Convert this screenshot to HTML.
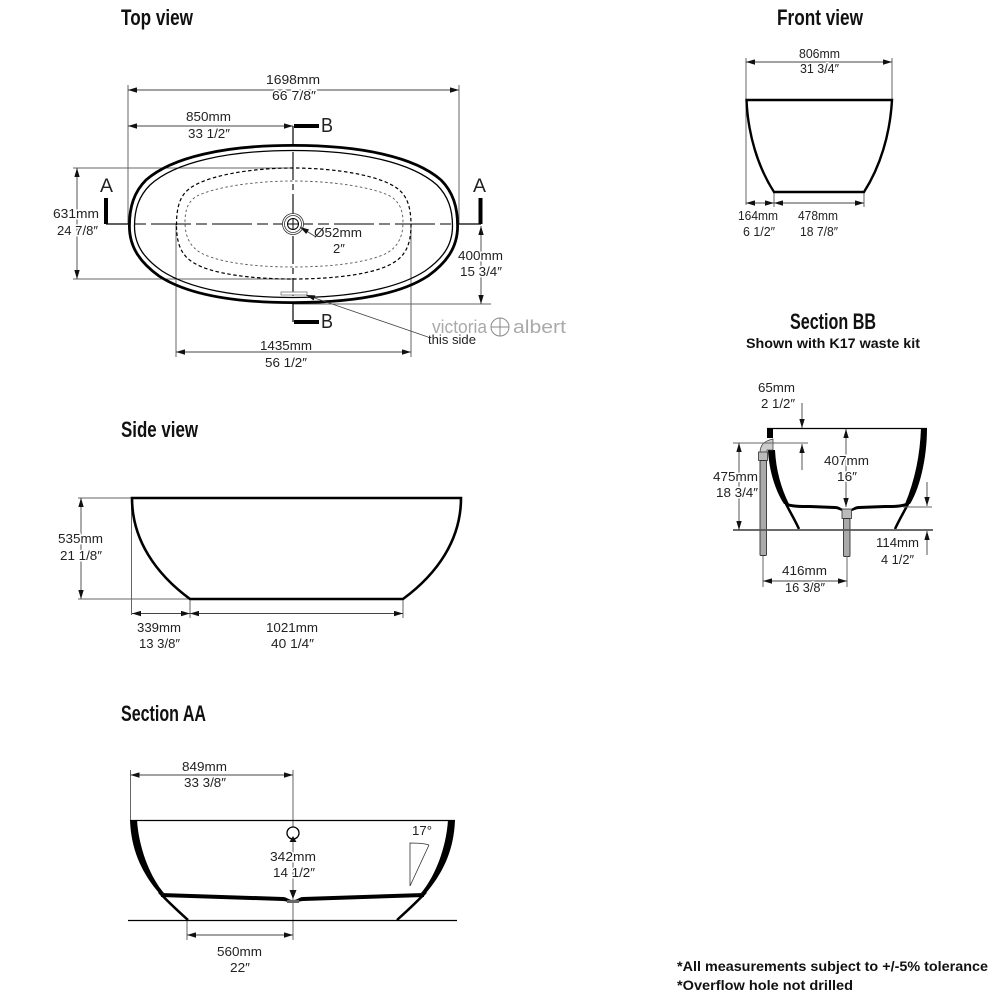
<!DOCTYPE html>
<html><head><meta charset="utf-8"><style>
html,body{margin:0;padding:0;background:#fff}
svg{display:block}
text{font-family:"Liberation Sans",sans-serif;font-size:13px;fill:#222}
.h{font-weight:bold;font-size:22px;fill:#111}
.b{font-weight:bold;font-size:14px;fill:#111}
.w{paint-order:stroke;stroke:#fff;stroke-width:3px;stroke-linejoin:round}
.d{stroke:#666;stroke-width:1;fill:none}
.a{stroke:#444;stroke-width:.9;fill:none;marker-start:url(#m);marker-end:url(#m)}
.e{stroke:#444;stroke-width:.9;fill:none;marker-end:url(#m)}
.k{stroke:#000;fill:none}
</style></head><body>
<svg width="1000" height="1000" viewBox="0 0 1000 1000" xmlns="http://www.w3.org/2000/svg">
<defs><marker id="m" viewBox="0 0 10 6" refX="10" refY="3" markerWidth="9" markerHeight="5.500" markerUnits="userSpaceOnUse" orient="auto-start-reverse"><path d="M0 0L10 3L0 6Z" fill="#111"/></marker></defs>

<!-- titles -->
<text class="h" x="121" y="25" textLength="72" lengthAdjust="spacingAndGlyphs">Top view</text>
<text class="h" x="777" y="25" textLength="86" lengthAdjust="spacingAndGlyphs">Front view</text>
<text class="h" x="121" y="437" textLength="77" lengthAdjust="spacingAndGlyphs">Side view</text>
<text class="h" x="121" y="721" textLength="85" lengthAdjust="spacingAndGlyphs">Section AA</text>
<text class="h" x="790" y="329" textLength="86" lengthAdjust="spacingAndGlyphs">Section BB</text>
<text class="b" x="746" y="348" textLength="174" lengthAdjust="spacingAndGlyphs">Shown with K17 waste kit</text>
<text class="b" x="677" y="971" textLength="311" lengthAdjust="spacingAndGlyphs">*All measurements subject to +/-5% tolerance</text>
<text class="b" x="677" y="990" textLength="176" lengthAdjust="spacingAndGlyphs">*Overflow hole not drilled</text>

<!-- TOP VIEW -->
<path class="d" d="M128 85V224M459 85V224M73 168H293M73 279H293M176 224V357M411 224V357M293 304H491"/>
<path class="k" stroke-width="2.800" d="M129.400 226C129.400 207 134 192 146 180C172 157 225 145.400 293 145.400C361 145.400 415 157 441 180C453 192 457.600 207 457.600 226C457.600 248 446 263 428 276C399 295 350 302.600 293 302.600C236 302.600 188 295 159 276C141 263 129.400 248 129.400 226Z"/>
<path class="k" stroke-width="1.300" d="M134.500 226C134.500 209 139 196 150 185C175 162 228 150.500 293 150.500C358 150.500 411 162 437 185C448 196 452.500 209 452.500 226C452.500 246 442 259 425 271C397 289 350 297.500 293 297.500C236 297.500 190 289 162 271C145 259 134.500 246 134.500 226Z"/>
<path class="k" stroke-width="1.200" stroke-dasharray="3.500 2.500" d="M176.500 225C176.500 207 180 196 189 189C205 176 250 168 293 168C337 168 382 176 398 189C407 196 411 207 411 225C411 245 405 256 393 263C375 274 335 279 293 279C252 279 212 274 194 263C182 256 176.500 245 176.500 225Z"/>
<path stroke="#555" fill="none" stroke-width=".9" stroke-dasharray="2.500 2.500" d="M185 222C185 208 189 201 197 196C215 187 255 181 293 181C332 181 372 187 390 196C398 201 403 208 403 222C403 238 397 248 385 254C365 263 330 267 293 267C257 267 222 263 203 254C191 248 185 238 185 222Z"/>
<path class="k" stroke-width="1.100" stroke-dasharray="40 5 11 5" stroke-dashoffset="45" d="M135 224H452"/>
<path class="k" stroke-width="1.200" d="M106 224H128M459 224H481"/>
<path class="k" stroke-width="1.200" d="M293 126V146M293 302V322"/>
<path class="k" stroke-width="1.100" stroke-dasharray="28 4 6 4" d="M293 152V296"/>
<path class="k" stroke-width="4" d="M106 198V224M480.500 198V224M294 126H319M294 322H319"/>
<g fill="#fff" stroke="#333" stroke-width=".8"><circle cx="293" cy="224" r="10.500"/><circle cx="293" cy="224" r="8.500"/><circle cx="293" cy="224" r="5.500" stroke="#000" stroke-width="1"/></g>
<path class="k" stroke-width="1" d="M287.500 224H298.500M293 218.500V229.500"/>
<rect x="281" y="292" width="26" height="3" fill="#fff" stroke="#777" stroke-width=".8"/>
<path class="a" d="M128 90H459"/>
<path class="a" d="M128 126H293"/>
<path class="a" d="M77 168V279"/>
<path class="a" d="M481 226V304"/>
<path class="a" d="M176 352H411"/>
<path class="e" d="M428 337L306 295"/>
<path class="e" d="M316 237L300 227"/>
<text class="w" x="266" y="84" textLength="54" lengthAdjust="spacingAndGlyphs">1698mm</text>
<text class="w" x="272" y="100" textLength="44" lengthAdjust="spacingAndGlyphs">66 7/8″</text>
<text class="w" x="186" y="121" textLength="45" lengthAdjust="spacingAndGlyphs">850mm</text>
<text class="w" x="188" y="138" textLength="42" lengthAdjust="spacingAndGlyphs">33 1/2″</text>
<text class="w" x="53" y="218" textLength="46" lengthAdjust="spacingAndGlyphs">631mm</text>
<text class="w" x="57" y="235" textLength="41" lengthAdjust="spacingAndGlyphs">24 7/8″</text>
<text class="w" x="458" y="260" textLength="45" lengthAdjust="spacingAndGlyphs">400mm</text>
<text class="w" x="460" y="276" textLength="42" lengthAdjust="spacingAndGlyphs">15 3/4″</text>
<text x="314" y="237" textLength="48" lengthAdjust="spacingAndGlyphs">Ø52mm</text>
<text x="333" y="253">2″</text>
<text class="w" x="260" y="350" textLength="52" lengthAdjust="spacingAndGlyphs">1435mm</text>
<text class="w" x="265" y="367" textLength="42" lengthAdjust="spacingAndGlyphs">56 1/2″</text>
<text x="432" y="333" style="font-size:18px;fill:#aaa" textLength="55" lengthAdjust="spacingAndGlyphs">victoria</text>
<text x="513" y="333" style="font-size:18px;fill:#aaa" textLength="53" lengthAdjust="spacingAndGlyphs">albert</text>
<text x="428" y="344" textLength="48" lengthAdjust="spacingAndGlyphs">this side</text>
<circle cx="500" cy="327" r="9" fill="none" stroke="#888" stroke-width="1"/><path d="M491 327H509M500 318V336" stroke="#888" stroke-width="1"/>
<text x="100" y="192" style="font-size:19px" textLength="13" lengthAdjust="spacingAndGlyphs">A</text>
<text x="473" y="192" style="font-size:19px" textLength="13" lengthAdjust="spacingAndGlyphs">A</text>
<text x="321" y="132" style="font-size:20px" textLength="12" lengthAdjust="spacingAndGlyphs">B</text>
<text x="321" y="328" style="font-size:20px" textLength="12" lengthAdjust="spacingAndGlyphs">B</text>

<!-- SIDE VIEW -->
<path class="d" d="M131.500 498V615M78 498H131M78 599H190M190 599V618M403 599V618"/>
<path class="k" stroke-width="2.600" d="M132 498H461C461 540 437 574 403 599H190C156 574 132 540 132 498Z"/>
<path class="a" d="M81 498V599"/>
<path class="a" d="M132 613.500H190"/>
<path class="a" d="M190 613.500H403"/>
<text class="w" x="58" y="543" textLength="45" lengthAdjust="spacingAndGlyphs">535mm</text>
<text class="w" x="60" y="560" textLength="42" lengthAdjust="spacingAndGlyphs">21 1/8″</text>
<text x="137" y="632" textLength="44" lengthAdjust="spacingAndGlyphs">339mm</text>
<text x="139" y="648" textLength="41" lengthAdjust="spacingAndGlyphs">13 3/8″</text>
<text x="266" y="632" textLength="52" lengthAdjust="spacingAndGlyphs">1021mm</text>
<text x="271" y="648" textLength="43" lengthAdjust="spacingAndGlyphs">40 1/4″</text>

<!-- SECTION AA -->
<path class="d" d="M130.500 770V820M293 770V940M187 920V940"/>
<path d="M130 820C131 850 142 873 159 893H164C151 878 139 850 137 820Z" fill="#000"/>
<path d="M455 820C454 850 443 873 426 893H421C434 878 446 850 448 820Z" fill="#000"/>
<path class="k" stroke-width="2.500" d="M159 892C168 902 178 911 188 920M426 892C417 902 407 911 397 920"/>
<path class="k" stroke-width="1.200" d="M130 820.500H455"/>
<path d="M161 893L283 897C287 897 288 900 293 900C298 900 299 897 303 897L424 893V897L303 901C299 901 297 903 293 903C289 903 287 901 283 901L161 897Z" fill="#000"/>
<rect x="287" y="900" width="12" height="3" fill="#666"/>
<path class="k" stroke-width="1.200" d="M128 920.500H457"/>
<circle cx="293" cy="833" r="6" fill="#fff" stroke="#000" stroke-width="1.300"/>
<path class="a" d="M130.500 775H293"/>
<path class="a" d="M187 935H293"/>
<path d="M293 836L296.500 842H289.500Z" fill="#111"/><path d="M293 899L296.500 890H289.500Z" fill="#111"/>
<path d="M429 845C423 843 416 843 410 843V886L429 845" fill="none" stroke="#333" stroke-width=".8"/>
<text class="w" x="182" y="771" textLength="45" lengthAdjust="spacingAndGlyphs">849mm</text>
<text class="w" x="184" y="787" textLength="42" lengthAdjust="spacingAndGlyphs">33 3/8″</text>
<text class="w" x="270" y="861" textLength="46" lengthAdjust="spacingAndGlyphs">342mm</text>
<text class="w" x="273" y="877" textLength="42" lengthAdjust="spacingAndGlyphs">14 1/2″</text>
<text x="412" y="835" textLength="20" lengthAdjust="spacingAndGlyphs">17°</text>
<text x="217" y="956" textLength="45" lengthAdjust="spacingAndGlyphs">560mm</text>
<text x="230" y="972" textLength="20" lengthAdjust="spacingAndGlyphs">22″</text>

<!-- FRONT VIEW -->
<path class="d" d="M746 58V205M892 58V100M774 192V207M864 192V207"/>
<path class="k" stroke-width="2.400" d="M746.500 100H892C890 135 880 167 864 192H774C758 167 748 135 746.500 100Z"/>
<path class="a" d="M746 62H892"/>
<path class="a" d="M746 203H774"/>
<path class="a" d="M774 203H864"/>
<text class="w" x="799" y="58" textLength="41" lengthAdjust="spacingAndGlyphs">806mm</text>
<text class="w" x="800" y="73" textLength="39" lengthAdjust="spacingAndGlyphs">31 3/4″</text>
<text x="738" y="220" textLength="40" lengthAdjust="spacingAndGlyphs">164mm</text>
<text x="743" y="236" textLength="32" lengthAdjust="spacingAndGlyphs">6 1/2″</text>
<text x="798" y="220" textLength="40" lengthAdjust="spacingAndGlyphs">478mm</text>
<text x="800" y="236" textLength="38" lengthAdjust="spacingAndGlyphs">18 7/8″</text>

<!-- SECTION BB -->
<path d="M767 428H773V438H767Z" fill="#000"/>
<path d="M768 450C769 470 775 490 784 504H789C781 488 776 470 775 450Z" fill="#000"/>
<path d="M927 428H921C920 455 915 480 905 504H910C919 490 927 460 927 428Z" fill="#000"/>
<path class="k" stroke-width="2.500" d="M785 502C790 512 795 520 799 529M909 502C904 512 899 520 895 529"/>
<path class="k" stroke-width="1.200" d="M767 428.500H927"/>
<path d="M785 502C790 505 800 505 810 505L835 506C840 506 842 510 847 510C852 510 854 506 859 506L885 505C895 505 905 505 909 501V504C905 508 895 508 885 508L859 509C855 509 852 512 847 512C842 512 839 509 835 509L810 508C800 508 790 508 785 505Z" fill="#000"/>
<path d="M760 453C760 445 764 441 773 439V450H767V453Z" fill="#ccc" stroke="#444" stroke-width=".8"/>
<rect x="758.500" y="452" width="9" height="8.500" fill="#bbb" stroke="#333" stroke-width=".8"/>
<rect x="760" y="460.500" width="6.500" height="95" rx="1" fill="#aaa" stroke="#333" stroke-width=".9"/>
<rect x="842" y="509" width="9.500" height="9.500" fill="#bbb" stroke="#333" stroke-width=".8"/>
<rect x="843.500" y="518.500" width="6.500" height="38" rx="1" fill="#aaa" stroke="#333" stroke-width=".9"/>
<path stroke="#555" stroke-width="1.800" d="M733 530H933"/>
<path class="d" d="M733 443H808M903 507H932M763 556V587M847 556V587"/>
<path class="a" d="M739 443V530"/>
<path class="e" d="M802 403V428"/>
<path class="e" d="M802 470V444"/>
<path class="a" d="M846 429V507"/>
<path class="e" d="M927 482V506"/>
<path class="e" d="M927 555V531"/>
<path class="a" d="M763 581H847"/>
<text x="758" y="392" textLength="37" lengthAdjust="spacingAndGlyphs">65mm</text>
<text x="761" y="408" textLength="34" lengthAdjust="spacingAndGlyphs">2 1/2″</text>
<text class="w" x="713" y="481" textLength="45" lengthAdjust="spacingAndGlyphs">475mm</text>
<text class="w" x="716" y="497" textLength="42" lengthAdjust="spacingAndGlyphs">18 3/4″</text>
<text class="w" x="824" y="465" textLength="45" lengthAdjust="spacingAndGlyphs">407mm</text>
<text class="w" x="837" y="481" textLength="20" lengthAdjust="spacingAndGlyphs">16″</text>
<text x="876" y="547" textLength="43" lengthAdjust="spacingAndGlyphs">114mm</text>
<text x="881" y="564" textLength="33" lengthAdjust="spacingAndGlyphs">4 1/2″</text>
<text class="w" x="782" y="575" textLength="45" lengthAdjust="spacingAndGlyphs">416mm</text>
<text class="w" x="785" y="592" textLength="40" lengthAdjust="spacingAndGlyphs">16 3/8″</text>
</svg>
</body></html>
